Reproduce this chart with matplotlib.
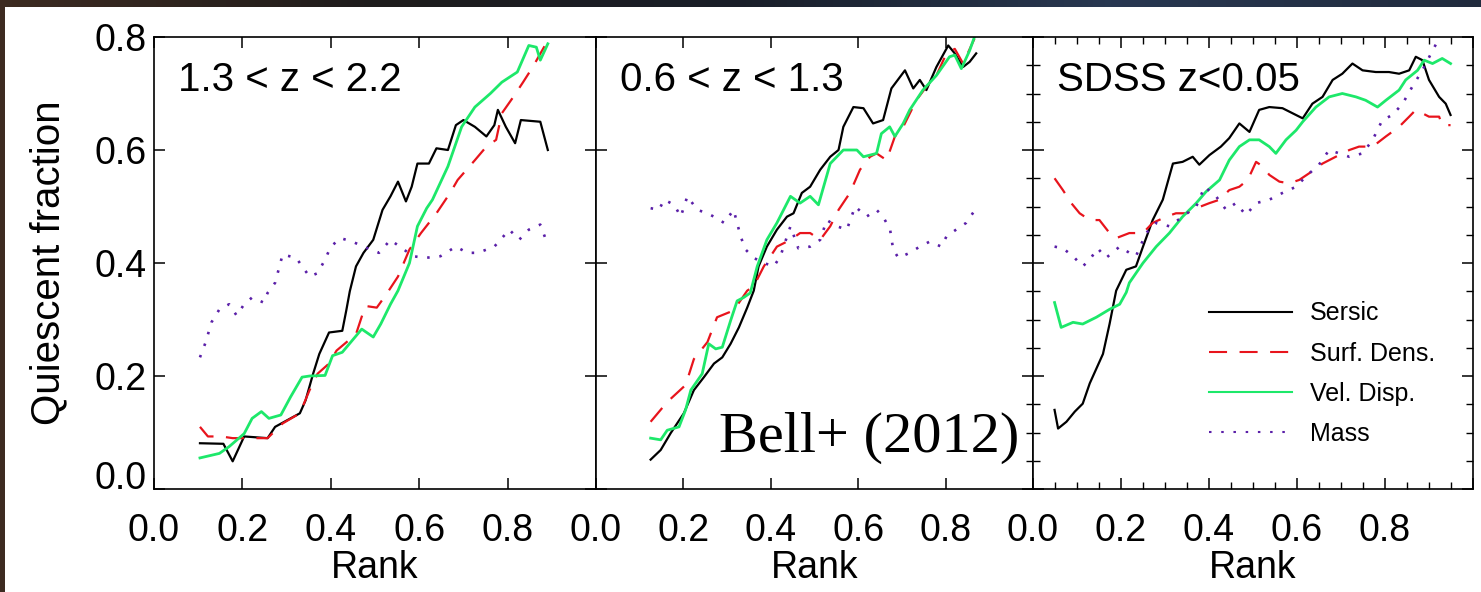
import numpy as np
import matplotlib
matplotlib.use("Agg")
import matplotlib.pyplot as plt
from matplotlib.patches import Rectangle
from matplotlib.ticker import MultipleLocator

plt.rcParams['font.family'] = ['Liberation Sans', 'DejaVu Sans']
plt.rcParams['lines.scale_dashes'] = False

# ---------------- data ----------------
panel_titles = ["1.3 < z < 2.2", "0.6 < z < 1.3", "SDSS z<0.05"]
series_names = ["Sersic", "Surf. Dens.", "Vel. Disp.", "Mass"]
xtick_vals = [0.0, 0.2, 0.4, 0.6, 0.8]
ytick_vals = [0.0, 0.2, 0.4, 0.6, 0.8]

# Panel 1 : 1.3 < z < 2.2
p1_sersic_r = [0.104,0.157,0.178,0.204,0.257,0.274,0.309,0.33,0.343,0.36,0.374,0.396,0.426,0.435,0.443,0.457,0.474,0.496,0.517,0.535,0.552,0.57,0.583,0.596,0.622,0.639,0.665,0.683,0.7,0.726,0.752,0.77,0.778,0.796,0.817,0.83,0.874,0.891]
p1_sersic_q = [0.081,0.08,0.049,0.093,0.09,0.11,0.125,0.134,0.157,0.204,0.239,0.277,0.28,0.316,0.35,0.394,0.418,0.441,0.494,0.518,0.544,0.509,0.535,0.576,0.576,0.603,0.6,0.644,0.653,0.641,0.624,0.644,0.671,0.641,0.612,0.653,0.65,0.6]
p1_surf_r = [0.104,0.122,0.152,0.178,0.213,0.257,0.291,0.33,0.352,0.37,0.396,0.413,0.457,0.478,0.504,0.526,0.552,0.578,0.604,0.639,0.67,0.687,0.726,0.752,0.774,0.787,0.813,0.835,0.857,0.891]
p1_surf_q = [0.11,0.093,0.093,0.09,0.09,0.09,0.116,0.134,0.175,0.204,0.222,0.245,0.274,0.324,0.321,0.345,0.376,0.424,0.453,0.488,0.524,0.547,0.582,0.606,0.618,0.665,0.694,0.72,0.747,0.794]
p1_vel_r = [0.104,0.148,0.17,0.204,0.222,0.243,0.26,0.287,0.309,0.335,0.352,0.387,0.404,0.426,0.47,0.496,0.513,0.535,0.552,0.578,0.596,0.617,0.63,0.665,0.696,0.726,0.761,0.787,0.822,0.848,0.865,0.874,0.891]
p1_vel_q = [0.055,0.063,0.075,0.098,0.125,0.137,0.125,0.131,0.163,0.198,0.2,0.201,0.236,0.242,0.283,0.269,0.292,0.327,0.351,0.4,0.465,0.497,0.512,0.571,0.641,0.676,0.7,0.72,0.738,0.785,0.782,0.759,0.788]
p1_mass_r = [0.104,0.117,0.13,0.148,0.17,0.187,0.204,0.222,0.248,0.257,0.274,0.291,0.322,0.335,0.352,0.37,0.387,0.4,0.422,0.448,0.483,0.509,0.535,0.561,0.587,0.613,0.648,0.683,0.709,0.733,0.77,0.804,0.826,0.848,0.874,0.891]
p1_mass_q = [0.233,0.26,0.295,0.318,0.327,0.307,0.327,0.339,0.33,0.347,0.365,0.415,0.409,0.394,0.376,0.382,0.406,0.429,0.444,0.438,0.426,0.418,0.441,0.426,0.412,0.409,0.412,0.429,0.418,0.418,0.429,0.459,0.441,0.459,0.468,0.432]

# Panel 2 : 0.6 < z < 1.3
p2_sersic_r = [0.125,0.148,0.171,0.201,0.224,0.247,0.27,0.289,0.308,0.327,0.346,0.361,0.372,0.391,0.414,0.437,0.452,0.471,0.49,0.513,0.536,0.555,0.566,0.589,0.612,0.634,0.657,0.676,0.707,0.726,0.741,0.756,0.779,0.806,0.821,0.84,0.855,0.87]
p2_sersic_q = [0.052,0.069,0.099,0.134,0.175,0.198,0.222,0.233,0.257,0.286,0.321,0.351,0.394,0.429,0.459,0.482,0.488,0.524,0.535,0.565,0.588,0.6,0.641,0.676,0.674,0.647,0.653,0.709,0.741,0.709,0.724,0.706,0.747,0.785,0.771,0.747,0.756,0.771]
p2_surf_r = [0.125,0.163,0.205,0.224,0.255,0.277,0.315,0.346,0.361,0.384,0.414,0.445,0.467,0.49,0.513,0.536,0.555,0.581,0.604,0.627,0.642,0.665,0.684,0.703,0.733,0.756,0.779,0.802,0.821,0.84,0.866]
p2_surf_q = [0.119,0.154,0.184,0.23,0.26,0.304,0.316,0.351,0.359,0.394,0.429,0.441,0.453,0.453,0.441,0.465,0.494,0.524,0.565,0.588,0.594,0.582,0.624,0.641,0.688,0.712,0.732,0.771,0.779,0.753,0.797]
p2_vel_r = [0.125,0.148,0.163,0.19,0.205,0.217,0.243,0.258,0.274,0.289,0.308,0.323,0.338,0.353,0.369,0.391,0.414,0.445,0.467,0.49,0.509,0.536,0.566,0.597,0.612,0.642,0.653,0.672,0.684,0.703,0.718,0.748,0.779,0.809,0.821,0.836,0.855,0.866]
p2_vel_q = [0.09,0.087,0.104,0.11,0.14,0.175,0.204,0.257,0.248,0.251,0.298,0.333,0.339,0.347,0.394,0.441,0.471,0.518,0.506,0.518,0.503,0.576,0.6,0.6,0.588,0.594,0.629,0.641,0.624,0.647,0.671,0.706,0.732,0.765,0.768,0.744,0.776,0.8]
p2_mass_r = [0.125,0.144,0.156,0.179,0.194,0.209,0.232,0.255,0.277,0.293,0.315,0.331,0.342,0.361,0.384,0.407,0.422,0.445,0.463,0.49,0.513,0.528,0.551,0.574,0.593,0.619,0.642,0.657,0.673,0.68,0.692,0.718,0.741,0.764,0.79,0.802,0.824,0.847,0.87]
p2_mass_q = [0.497,0.494,0.512,0.503,0.482,0.518,0.494,0.488,0.479,0.471,0.494,0.447,0.424,0.409,0.4,0.394,0.412,0.465,0.426,0.429,0.441,0.476,0.465,0.459,0.5,0.482,0.494,0.482,0.459,0.424,0.409,0.418,0.429,0.438,0.429,0.447,0.459,0.471,0.497]

# Panel 3 : SDSS z<0.05
p3_sersic_r = [0.049,0.057,0.076,0.095,0.113,0.129,0.159,0.174,0.189,0.212,0.234,0.25,0.272,0.295,0.318,0.34,0.363,0.378,0.401,0.427,0.446,0.469,0.492,0.514,0.537,0.567,0.59,0.613,0.635,0.658,0.681,0.703,0.726,0.749,0.779,0.809,0.832,0.855,0.87,0.885,0.9,0.923,0.938,0.949]
p3_sersic_q = [0.14,0.107,0.119,0.137,0.151,0.187,0.239,0.292,0.351,0.388,0.394,0.429,0.476,0.512,0.576,0.579,0.588,0.574,0.591,0.606,0.621,0.647,0.632,0.671,0.676,0.674,0.665,0.656,0.682,0.694,0.724,0.735,0.753,0.741,0.738,0.738,0.735,0.741,0.765,0.759,0.724,0.694,0.682,0.662]
p3_surf_r = [0.049,0.068,0.087,0.106,0.129,0.151,0.174,0.189,0.219,0.25,0.272,0.303,0.325,0.348,0.371,0.401,0.424,0.446,0.469,0.488,0.507,0.522,0.537,0.56,0.582,0.605,0.628,0.658,0.688,0.719,0.741,0.772,0.802,0.832,0.855,0.87,0.9,0.923,0.93,0.949]
p3_surf_q = [0.55,0.529,0.506,0.488,0.476,0.476,0.453,0.444,0.453,0.453,0.471,0.482,0.488,0.488,0.497,0.506,0.512,0.529,0.535,0.547,0.579,0.571,0.556,0.544,0.541,0.547,0.559,0.576,0.588,0.6,0.606,0.606,0.624,0.641,0.659,0.671,0.659,0.659,0.644,0.644]
p3_vel_r = [0.049,0.064,0.091,0.113,0.144,0.174,0.197,0.212,0.219,0.25,0.28,0.31,0.34,0.371,0.393,0.424,0.446,0.469,0.492,0.514,0.537,0.552,0.575,0.598,0.613,0.643,0.673,0.703,0.734,0.756,0.783,0.802,0.832,0.847,0.874,0.889,0.908,0.93,0.949]
p3_vel_q = [0.33,0.286,0.295,0.292,0.304,0.318,0.327,0.348,0.365,0.4,0.429,0.453,0.482,0.506,0.526,0.547,0.582,0.606,0.618,0.618,0.606,0.594,0.618,0.635,0.65,0.676,0.694,0.7,0.694,0.688,0.676,0.688,0.706,0.724,0.741,0.759,0.753,0.762,0.753]
p3_mass_r = [0.049,0.068,0.091,0.113,0.129,0.147,0.166,0.197,0.219,0.234,0.257,0.28,0.31,0.34,0.371,0.39,0.416,0.439,0.461,0.484,0.507,0.537,0.567,0.598,0.62,0.65,0.673,0.696,0.719,0.749,0.772,0.794,0.817,0.84,0.862,0.885,0.908,0.927]
p3_mass_q = [0.429,0.426,0.412,0.394,0.406,0.426,0.409,0.429,0.418,0.412,0.453,0.471,0.465,0.482,0.5,0.535,0.518,0.494,0.506,0.485,0.506,0.512,0.524,0.535,0.553,0.574,0.6,0.594,0.588,0.594,0.618,0.653,0.662,0.682,0.712,0.741,0.776,0.803]

panels = [
    [(p1_sersic_r, p1_sersic_q), (p1_surf_r, p1_surf_q), (p1_vel_r, p1_vel_q), (p1_mass_r, p1_mass_q)],
    [(p2_sersic_r, p2_sersic_q), (p2_surf_r, p2_surf_q), (p2_vel_r, p2_vel_q), (p2_mass_r, p2_mass_q)],
    [(p3_sersic_r, p3_sersic_q), (p3_surf_r, p3_surf_q), (p3_vel_r, p3_vel_q), (p3_mass_r, p3_mass_q)],
]

# ---------------- styles ----------------
styles = [
    dict(color='black', lw=1.6, linestyle='-'),
    dict(color='#e8141c', lw=1.6, dashes=(13, 9)),
    dict(color='#1de86a', lw=2.0, linestyle='-'),
    dict(color='#5a1fa8', lw=1.9, dashes=(1.8, 7)),
]

W, H = 1481, 592
fig = plt.figure(figsize=(W / 100, H / 100), dpi=100)

# dark photographic border + white card
bg = fig.add_axes([0, 0, 1, 1], zorder=-10)
bg.set_axis_off()
stops = np.array([[0.24, 0.17, 0.13], [0.12, 0.11, 0.11], [0.10, 0.12, 0.16], [0.16, 0.22, 0.32], [0.13, 0.17, 0.24]])
xs = np.linspace(0, 1, 256)
sp = np.linspace(0, 1, len(stops))
grad = np.stack([np.interp(xs, sp, stops[:, c]) for c in range(3)], axis=-1)[None, :, :]
bg.imshow(grad, aspect='auto', extent=[0, 1, 0, 1])
bg.set_xlim(0, 1); bg.set_ylim(0, 1)
bg.add_patch(Rectangle((5 / W, 0), 1, (H - 7) / H, facecolor='white', edgecolor='none'))

# axes positions in pixels
lefts = [154, 596, 1033]
widths = [442, 437, 440]
bottom_px, top_px = 489, 37

axes = []
for i in range(3):
    ax = fig.add_axes([lefts[i] / W, (H - bottom_px) / H, widths[i] / W, (bottom_px - top_px) / H])
    axes.append(ax)
    for (r, q), st in zip(panels[i], styles):
        ax.plot(r, q, **st)
    ax.set_xlim(0, 1.0)
    ax.set_ylim(0, 0.8)
    ax.set_xticks(xtick_vals + [1.0])
    ax.set_xticklabels([f"{v:.1f}" for v in xtick_vals] + [""])
    ax.set_yticks(ytick_vals)
    ax.tick_params(which='major', direction='in', length=8, width=1.1, top=True, right=True,
                   labelsize=27, pad=17)
    ax.tick_params(axis='y', which='major', pad=5)
    for s in ax.spines.values():
        s.set_linewidth(1.2)
    ax.set_xlabel("Rank", fontsize=27)
    ax.xaxis.set_label_coords(0.5, -0.135)
    ax.text(0.055, 0.905, panel_titles[i], transform=ax.transAxes, fontsize=29,
            ha='left', va='center')
    if i == 0:
        ax.set_yticklabels([f"{v:.1f}" for v in ytick_vals])
        ax.set_ylabel("Quiescent fraction", fontsize=29)
        ax.yaxis.set_label_coords(-0.197, 0.5)
        ax.yaxis.get_major_ticks()[0].label1.set_va('baseline')
    else:
        ax.set_yticklabels([])
    if i == 1:
        ax.yaxis.set_minor_locator(MultipleLocator(0.05))
        ax.tick_params(axis='y', which='minor', direction='in', length=5, width=1.0,
                       left=False, right=True)
    if i == 2:
        ax.xaxis.set_minor_locator(MultipleLocator(0.05))
        ax.yaxis.set_minor_locator(MultipleLocator(0.05))
        ax.tick_params(which='minor', direction='in', length=5, width=1.0,
                       top=True, right=True, left=True, bottom=True)

axes[1].text(0.281, 0.082, "Bell+ (2012)", transform=axes[1].transAxes,
             fontsize=42, family=['Liberation Serif', 'DejaVu Serif'],
             ha='left', va='baseline', zorder=5)

handles = axes[2].get_lines()
leg = axes[2].legend(handles, series_names, loc='center left',
                     bbox_to_anchor=(0.40, 0.255), frameon=False, fontsize=18,
                     handlelength=3.3, handletextpad=0.75, labelspacing=0.65,
                     borderpad=0, borderaxespad=0)
for lh in leg.get_lines():
    lh.set_linewidth(1.5)

fig.savefig("out.png", dpi=100)
